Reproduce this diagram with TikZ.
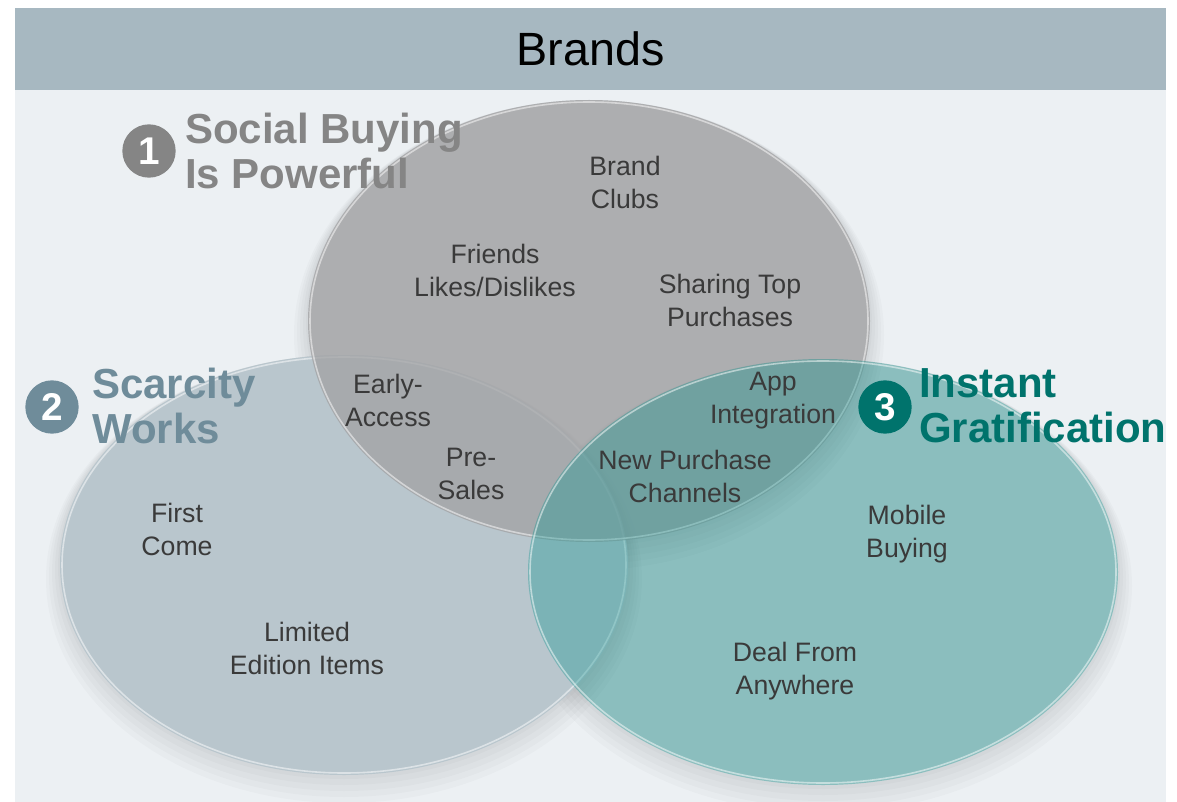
\documentclass[tikz,border=0pt]{standalone}
\usepackage{fontspec}
\setmainfont{Liberation Sans}
\usetikzlibrary{positioning}

\definecolor{barcol}{HTML}{A7B8C1}
\definecolor{panelcol}{HTML}{ECF0F3}
\definecolor{socialcol}{HTML}{A2A2A4}
\definecolor{scarcecol}{HTML}{B9C6CD}
\definecolor{instantcol}{HTML}{0E948F}
\definecolor{socialhead}{HTML}{858585}
\definecolor{scarcehead}{HTML}{6F8C9A}
\definecolor{instanthead}{HTML}{00736C}
\definecolor{itemcol}{HTML}{3A3A3A}

\tikzset{
  item/.style={align=center, text=itemcol, inner sep=0pt,
    font=\fontsize{20}{24.75}\selectfont},
  heading/.style={align=left, anchor=west, inner sep=0pt,
    font=\bfseries\fontsize{31.5}{34}\selectfont},
  badge/.style={circle, inner sep=0pt, minimum size=40pt, text=white,
    font=\bfseries\fontsize{29}{29}\selectfont},
  rim/.style={draw=white, draw opacity=0.5, line width=1.2pt},
  shade/.style={fill=black, fill opacity=0.018}
}

\begin{document}
\begin{tikzpicture}[x=0.75pt, y=-0.75pt]
    \useasboundingbox (0,0) rectangle (1177,802);
    \fill[white] (0,0) rectangle (1177,802);
    % panel and title bar
    \fill[panelcol] (15,90) rectangle (1166,802);
    \fill[barcol] (15,8) rectangle (1166,90);
    \node[font=\fontsize{35}{35}\selectfont] (title) at (590.5,49) {Brands};

    % soft shadows
    \begin{scope}
      \clip (15,90) rectangle (1166,802);
      \foreach \s in {2,5,8,11,14} {
        \fill[shade] (344,565+\s) ellipse [x radius=284+\s, y radius=210+\s];
        \fill[shade] (589,321+\s) ellipse [x radius=281+\s, y radius=221+\s];
        \fill[shade] (823,572+\s) ellipse [x radius=295+\s, y radius=213+\s];
      }
    \end{scope}

    % the three sets
    \fill[scarcecol] (344,565) ellipse [x radius=284, y radius=210];
    \draw[rim] (344,565) ellipse [x radius=282, y radius=208];
    \fill[socialcol, fill opacity=0.76] (589,321) ellipse [x radius=281, y radius=221];
    \draw[rim] (589,321) ellipse [x radius=279, y radius=219];
    \fill[instantcol, fill opacity=0.36] (823,572) ellipse [x radius=295, y radius=213];
    \draw[rim] (823,572) ellipse [x radius=293, y radius=211];

    % headings
    \node[badge, fill=socialhead] (b1) at (149,151) {1};
    \node[heading, text=socialhead] (h1) at (185,151) {Social Buying\\Is Powerful};
    \node[badge, fill=scarcehead] (b2) at (52,407) {2};
    \node[heading, text=scarcehead] (h2) at (92,406) {Scarcity\\Works};
    \node[badge, fill=instanthead] (b3) at (885,407) {3};
    \node[heading, text=instanthead] (h3) at (919,406) {Instant\\Gratification};

    % items
    \node[item] (clubs) at (625,182) {Brand\\Clubs};
    \node[item] (friends) at (495,270) {Friends\\Likes/Dislikes};
    \node[item] (sharing) at (730,300) {Sharing Top\\Purchases};
    \node[item] (early) at (388,400) {Early-\\Access};
    \node[item] (app) at (773,401) {App\\Integration};
    \node[item] (presales) at (471,474) {Pre-\\Sales};
    \node[item] (channels) at (685,476) {New Purchase\\Channels};
    \node[item] (first) at (177,529) {First\\Come};
    \node[item] (mobile) at (907,534) {Mobile\\Buying};
    \node[item] (limited) at (307,648) {Limited\\Edition Items};
    \node[item] (deal) at (795,671) {Deal From\\Anywhere};
\end{tikzpicture}
\end{document}
